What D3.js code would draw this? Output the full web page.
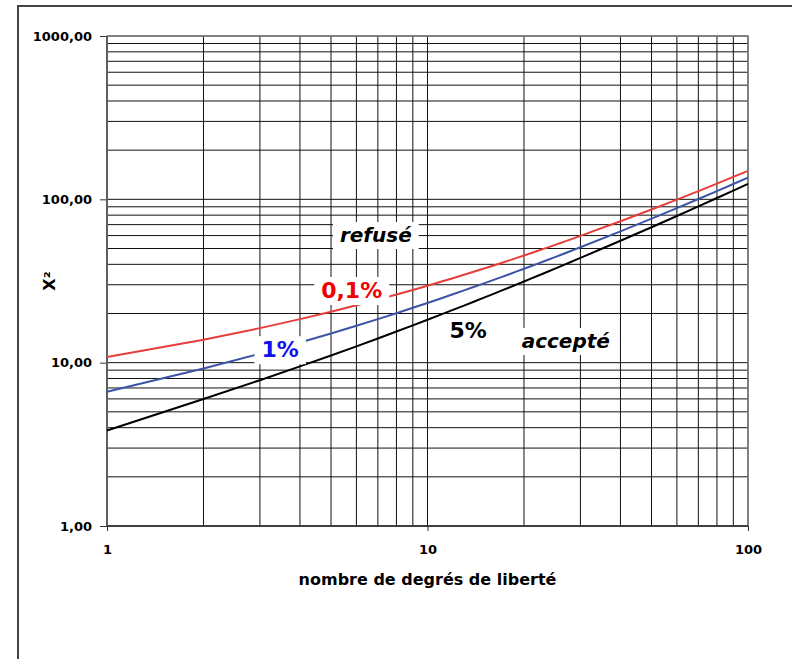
<!DOCTYPE html>
<html>
<head>
<meta charset="utf-8">
<script src="https://cdn.jsdelivr.net/npm/d3@7"></script>
<style>
    body { margin: 0; background: #fff; }
    text { font-family: "DejaVu Sans", sans-serif; font-weight: bold; }
</style>
</head>
<body>
<div id="chart"></div>
<script>
// degrees of freedom
const df = [1, 2, 3, 4, 5, 6, 7, 8, 9, 10, 11, 12, 13, 14, 15, 16, 17, 18, 19, 20,
    21, 22, 23, 24, 25, 26, 27, 28, 29, 30, 40, 50, 60, 70, 80, 90, 100];

// critical chi-square values
const chi5 = [3.84, 5.99, 7.81, 9.49, 11.07, 12.59, 14.07, 15.51, 16.92, 18.31, 19.68, 21.03,
    22.36, 23.68, 25.00, 26.30, 27.59, 28.87, 30.14, 31.41, 32.67, 33.92, 35.17, 36.42, 37.65,
    38.89, 40.11, 41.34, 42.56, 43.77, 55.76, 67.50, 79.08, 90.53, 101.88, 113.15, 124.34];
const chi1 = [6.63, 9.21, 11.34, 13.28, 15.09, 16.81, 18.48, 20.09, 21.67, 23.21, 24.73, 26.22,
    27.69, 29.14, 30.58, 32.00, 33.41, 34.81, 36.19, 37.57, 38.93, 40.29, 41.64, 42.98, 44.31,
    45.64, 46.96, 48.28, 49.59, 50.89, 63.69, 76.15, 88.38, 100.43, 112.33, 124.12, 135.81];
const chi01 = [10.83, 13.82, 16.27, 18.47, 20.52, 22.46, 24.32, 26.12, 27.88, 29.59, 31.26, 32.91,
    34.53, 36.12, 37.70, 39.25, 40.79, 42.31, 43.82, 45.32, 46.80, 48.27, 49.73, 51.18, 52.62,
    54.05, 55.48, 56.89, 58.30, 59.70, 73.40, 86.66, 99.61, 112.32, 124.84, 137.21, 149.45];

const xTicks = [1, 10, 100];
const yTicks = [1, 10, 100, 1000];

// annotations: text, df, value
const labels = [
    { text: "refusé", x: 6.9, y: 54.8, color: "#000", size: 20, italic: true },
    { text: "0,1%", x: 5.8, y: 24.9, color: "#f00000", size: 22, italic: false },
    { text: "1%", x: 3.47, y: 10.8, color: "#1010f0", size: 22, italic: false },
    { text: "5%", x: 13.4, y: 14.2, color: "#000", size: 22, italic: false },
    { text: "accepté", x: 27.0, y: 12.3, color: "#000", size: 20, italic: true }
];

const series = [
    { values: chi01, color: "#e63e3a" },
    { values: chi1, color: "#3c54a6" },
    { values: chi5, color: "#000" }
];

const width = 792, height = 659;
const plot = { left: 107, right: 748, top: 36, bottom: 526 };

const svg = d3.select("#chart").append("svg")
    .attr("width", width)
    .attr("height", height);

// outer frame, runs past the window on the right and bottom
svg.append("rect")
    .attr("x", 18).attr("y", 6)
    .attr("width", 820).attr("height", 720)
    .attr("fill", "#fff")
    .attr("stroke", "#444")
    .attr("stroke-width", 2);

const x = d3.scaleLog().domain([1, 100]).range([plot.left, plot.right]);
const y = d3.scaleLog().domain([1, 1000]).range([plot.bottom, plot.top]);

// grid values: 1..9 for each decade
const gridX = [];
[1, 10].forEach(d => d3.range(1, 10).forEach(k => gridX.push(d * k)));
gridX.push(100);
const gridY = [];
[1, 10, 100].forEach(d => d3.range(1, 10).forEach(k => gridY.push(d * k)));
gridY.push(1000);

const grid = svg.append("g").attr("class", "grid");
grid.selectAll(".gx")
    .data(gridX)
    .enter()
    .append("line")
    .attr("x1", d => x(d)).attr("x2", d => x(d))
    .attr("y1", plot.top).attr("y2", plot.bottom)
    .attr("stroke", "#111")
    .attr("stroke-width", 1);
grid.selectAll(".gy")
    .data(gridY)
    .enter()
    .append("line")
    .attr("x1", plot.left).attr("x2", plot.right)
    .attr("y1", d => y(d)).attr("y2", d => y(d))
    .attr("stroke", "#111")
    .attr("stroke-width", 1);

// plot area border
svg.append("rect")
    .attr("x", plot.left).attr("y", plot.top)
    .attr("width", plot.right - plot.left).attr("height", plot.bottom - plot.top)
    .attr("fill", "none")
    .attr("stroke", "#808080")
    .attr("stroke-width", 1.5);

// axes
const yAxis = svg.append("g")
    .attr("transform", "translate(" + plot.left + ",0)")
    .call(d3.axisLeft(y)
        .tickValues(yTicks)
        .tickFormat(d => d3.format(".2f")(d).replace(".", ","))
        .tickSize(7)
        .tickPadding(8));
const xAxis = svg.append("g")
    .attr("transform", "translate(0," + plot.bottom + ")")
    .call(d3.axisBottom(x)
        .tickValues(xTicks)
        .tickFormat(d3.format("d"))
        .tickSize(5)
        .tickPadding(14));
[xAxis, yAxis].forEach(a => {
    a.select(".domain").remove();
    a.selectAll("text")
        .attr("fill", "#000")
        .style("font-size", "13px")
        .style("font-family", '"DejaVu Sans", sans-serif')
        .style("font-weight", "bold");
    a.selectAll(".tick line").attr("stroke", "#333");
});
svg.append("line")
    .attr("x1", plot.left).attr("x2", plot.right)
    .attr("y1", plot.bottom).attr("y2", plot.bottom)
    .attr("stroke", "#000");
svg.append("line")
    .attr("x1", plot.left).attr("x2", plot.left)
    .attr("y1", plot.top).attr("y2", plot.bottom)
    .attr("stroke", "#555")
    .attr("stroke-width", 1.5);

// axis titles
svg.append("text")
    .attr("x", (plot.left + plot.right) / 2)
    .attr("y", 585)
    .attr("text-anchor", "middle")
    .style("font-size", "16px")
    .text("nombre de degrés de liberté");
svg.append("text")
    .attr("transform", "translate(55,281) rotate(-90)")
    .attr("text-anchor", "middle")
    .style("font-size", "16px")
    .text("X²");

// series lines
const line = d3.line()
    .x((d, i) => x(df[i]))
    .y(d => y(d));
svg.append("g").selectAll("path")
    .data(series)
    .enter()
    .append("path")
    .attr("d", d => line(d.values))
    .attr("fill", "none")
    .attr("stroke", d => d.color)
    .attr("stroke-width", 2);

// annotations on white boxes
const ann = svg.append("g").selectAll("g")
    .data(labels)
    .enter()
    .append("g")
    .attr("transform", d => "translate(" + x(d.x) + "," + y(d.y) + ")");
const annText = ann.append("text")
    .attr("text-anchor", "middle")
    .attr("fill", d => d.color)
    .style("font-size", d => d.size + "px")
    .style("font-style", d => d.italic ? "italic" : "normal")
    .text(d => d.text);
annText.each(function() {
    const b = this.getBBox();
    d3.select(this.parentNode).insert("rect", "text")
        .attr("x", b.x - 7).attr("y", b.y - 1)
        .attr("width", b.width + 14).attr("height", b.height + 3)
        .attr("fill", "#fff");
});
</script>
</body>
</html>
